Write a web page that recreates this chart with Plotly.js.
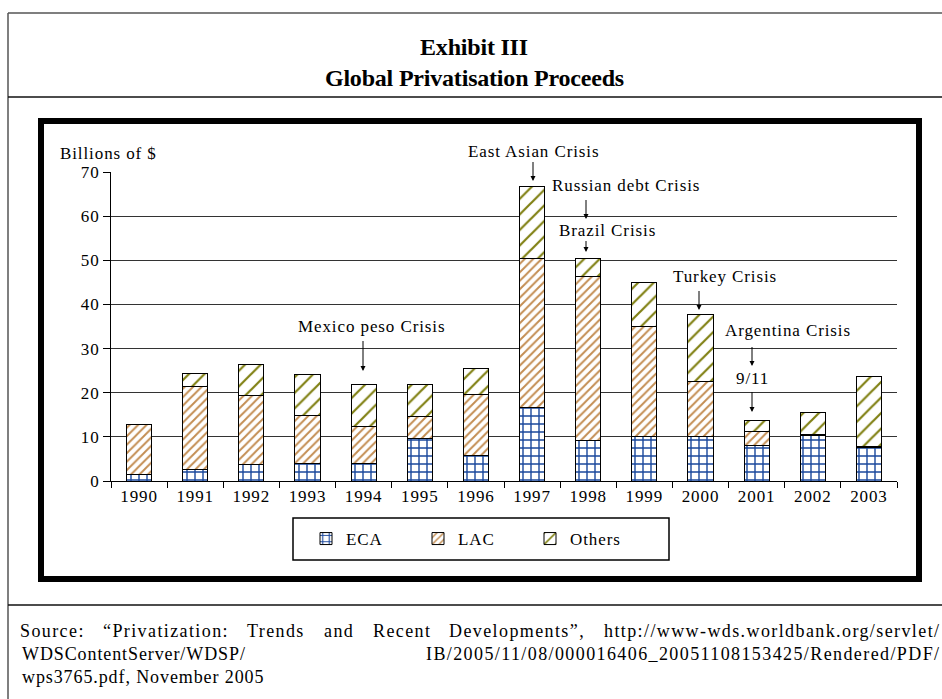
<!DOCTYPE html>
<html>
<head>
<meta charset="utf-8">
<script src="https://cdn.plot.ly/plotly-3.0.1.min.js"></script>
<style>
  html, body { margin: 0; padding: 0; background: #fff; }
  #chart { width: 942px; height: 699px; }
  text { letter-spacing: 0.9px; }
  g.annotation[data-index="0"] text, g.annotation[data-index="1"] text { letter-spacing: -0.2px; }
</style>
</head>
<body>
<div id="chart"></div>
<script>
// ---- data (Billions of $) ----
var years = ['1990','1991','1992','1993','1994','1995','1996','1997','1998','1999','2000','2001','2002','2003'];
var eca    = [1.4, 2.7, 3.7, 3.9, 4.0, 9.7, 5.8, 16.6, 9.2, 10.0, 10.0, 8.1, 10.2, 7.6];
var lac    = [11.5, 18.6, 15.7, 10.9, 8.3, 4.8, 13.8, 33.9, 37.1, 24.9, 12.5, 3.1, 0.3, 0.2];
var others = [0, 3.1, 7.1, 9.3, 9.6, 7.4, 5.9, 16.2, 4.1, 10.0, 15.2, 2.6, 5.1, 15.9];
var yTicks = [0, 10, 20, 30, 40, 50, 60, 70];

var crisisLabels = ['East Asian Crisis','Russian debt Crisis','Brazil Crisis','Turkey Crisis','Argentina Crisis','9/11','Mexico peso Crisis'];

var sourceLine1 = ['Source:', '“Privatization:', 'Trends', 'and', 'Recent', 'Developments”,', 'http://www-wds.worldbank.org/servlet/'];
var sourceLine2 = ['WDSContentServer/WDSP/', 'IB/2005/11/08/000016406_20051108153425/Rendered/PDF/'];
var sourceLine3 = 'wps3765.pdf, November 2005';

// ---- layout helpers (pixel -> paper) ----
var L = 111, T = 172, W = 786, H = 309;
function PX(x){ return (x - L) / W; }
function PY(y){ return (T + H - y) / H; }

var FONT = '"Liberation Serif", "Times New Roman", serif';
var SRC_SIZE = 18;
var WIDE = 1.4;   // character spacing of the justified source lines

var cv = document.createElement('canvas').getContext('2d');
cv.font = SRC_SIZE + 'px "Liberation Serif"';
function textW(s, sp){ return cv.measureText(s).width + s.length * sp; }
function spaced(s, sp){ return '<span style="letter-spacing:' + sp + 'px">' + s + '</span>'; }

var traces = [
  {name:'ECA', x:years, y:eca, type:'bar',
   marker:{color:'#ffffff', line:{color:'#000', width:1},
           pattern:{shape:'+', fgcolor:'#1a479c', bgcolor:'#ffffff', size:8, solidity:0.32}}},
  {name:'LAC', x:years, y:lac, type:'bar',
   marker:{color:'#ffffff', line:{color:'#000', width:1},
           pattern:{shape:'/', fgcolor:'#c38d52', bgcolor:'#ffffff', size:6, solidity:0.32}}},
  {name:'Others', x:years, y:others, type:'bar',
   marker:{color:'#ffffff', line:{color:'#000', width:1},
           pattern:{shape:'/', fgcolor:'#808012', bgcolor:'#ffffff', size:11, solidity:0.2}}}
];

var ann = [];
// titles (index 0,1)
ann.push({text:'<b>Exhibit III</b>', xref:'paper', yref:'paper', x:PX(474), y:PY(47), showarrow:false,
          xanchor:'center', yanchor:'middle', font:{family:FONT, size:24, color:'#000'}});
ann.push({text:'<b>Global Privatisation Proceeds</b>', xref:'paper', yref:'paper', x:PX(474), y:PY(78), showarrow:false,
          xanchor:'center', yanchor:'middle', font:{family:FONT, size:24, color:'#000'}});

// source line 1, justified between 20 and 940 px
var left = 20, right = 940;
var widths = sourceLine1.map(function(s){ return textW(s, WIDE); });
var total = widths.reduce(function(a,b){return a+b;}, 0);
var gap = (right - left - total) / (sourceLine1.length - 1);
var cx = left;
sourceLine1.forEach(function(word, i){
  ann.push({text:spaced(word, WIDE), xref:'paper', yref:'paper', x:PX(cx + widths[i]/2), y:PY(631), showarrow:false,
            xanchor:'center', yanchor:'middle', font:{family:FONT, size:SRC_SIZE, color:'#000'}});
  cx += widths[i] + gap;
});
ann.push({text:sourceLine2[0], xref:'paper', yref:'paper', x:PX(left), y:PY(654), showarrow:false,
          xanchor:'left', yanchor:'middle', font:{family:FONT, size:SRC_SIZE, color:'#000'}});
var w2 = textW(sourceLine2[1], WIDE);
ann.push({text:spaced(sourceLine2[1], WIDE), xref:'paper', yref:'paper', x:PX(right - w2/2), y:PY(654),
          showarrow:false, xanchor:'center', yanchor:'middle', font:{family:FONT, size:SRC_SIZE, color:'#000'}});
ann.push({text:sourceLine3, xref:'paper', yref:'paper', x:PX(left), y:PY(677), showarrow:false,
          xanchor:'left', yanchor:'middle', font:{family:FONT, size:SRC_SIZE, color:'#000'}});

// y-axis caption
ann.push({text:'Billions of $', xref:'paper', yref:'paper', x:PX(58), y:PY(153), showarrow:false,
          xanchor:'left', yanchor:'middle', font:{family:FONT, size:17, color:'#000'}});

// crisis labels: [label index, centre x px, centre y px]
var labelPos = [[0,533,151],[1,626,185],[2,607,230],[3,725,276],[4,788,330],[5,752,378],[6,371,326]];
labelPos.forEach(function(p){
  ann.push({text:crisisLabels[p[0]], xref:'paper', yref:'paper', x:PX(p[1]), y:PY(p[2]), showarrow:false,
            xanchor:'center', yanchor:'middle', font:{family:FONT, size:17, color:'#000'}});
});
// arrows: [x px, tail y px, head y px]
var arrows = [[533,160,181],[586,198,219],[586,239,252],[699,289,310],[752,345,366],[752,390,412],[363,339,371]];
arrows.forEach(function(a){
  ann.push({text:' ', xref:'paper', yref:'paper', x:PX(a[0]), y:PY(a[2]), ax:0, ay:a[1]-a[2],
            showarrow:true, arrowhead:2, arrowsize:1, arrowwidth:1, arrowcolor:'#000', standoff:0,
            font:{size:1}});
});

function hline(y, x0, x1, c, w){ return {type:'line', xref:'paper', yref:'paper', x0:PX(x0), x1:PX(x1), y0:PY(y), y1:PY(y), line:{color:c, width:w}}; }
function vline(x, y0, y1, c, w){ return {type:'line', xref:'paper', yref:'paper', x0:PX(x), x1:PX(x), y0:PY(y0), y1:PY(y1), line:{color:c, width:w}}; }

var shapes = [
  hline(13, 8, 960, '#555', 1.5),
  vline(8, 13, 720, '#555', 1.5),
  hline(97, 8, 960, '#111', 1.5),
  hline(605, 8, 960, '#111', 1.5),
  {type:'rect', xref:'paper', yref:'paper', x0:PX(41), x1:PX(919), y0:PY(121), y1:PY(579), line:{color:'#000', width:6}},
  {type:'rect', xref:'paper', yref:'paper', x0:PX(293), x1:PX(669), y0:PY(518), y1:PY(560), line:{color:'#000', width:1.5}}
];

var layout = {
  width:942, height:699,
  margin:{l:L, r:942-L-W, t:T, b:699-T-H, pad:0},
  paper_bgcolor:'#fff', plot_bgcolor:'rgba(0,0,0,0)',
  barmode:'stack', bargap:0.55,
  font:{family:FONT, size:17, color:'#000'},
  showlegend:true,
  legend:{orientation:'h', x:PX(306), y:PY(539), xanchor:'left', yanchor:'middle',
          bgcolor:'rgba(0,0,0,0)', borderwidth:0, font:{family:FONT, size:17, color:'#000'},
          entrywidth:67, entrywidthmode:'pixels', traceorder:'normal'},
  xaxis:{type:'category', showline:true, linecolor:'#000', linewidth:1, ticks:'outside', tickson:'boundaries',
         ticklen:6, tickcolor:'#000', showgrid:false, tickfont:{family:FONT, size:17, color:'#000'}, fixedrange:true},
  yaxis:{range:[0,70], tickvals:yTicks, ticktext:yTicks.map(String), showline:true, linecolor:'#000', linewidth:1,
         ticks:'outside', ticklen:7, tickcolor:'#000', showgrid:true, gridcolor:'#333', gridwidth:1,
         zeroline:false, tickfont:{family:FONT, size:17, color:'#000'}, fixedrange:true},
  annotations:ann,
  shapes:shapes
};

Plotly.newPlot('chart', traces, layout, {displayModeBar:false, staticPlot:true});
</script>
</body>
</html>
